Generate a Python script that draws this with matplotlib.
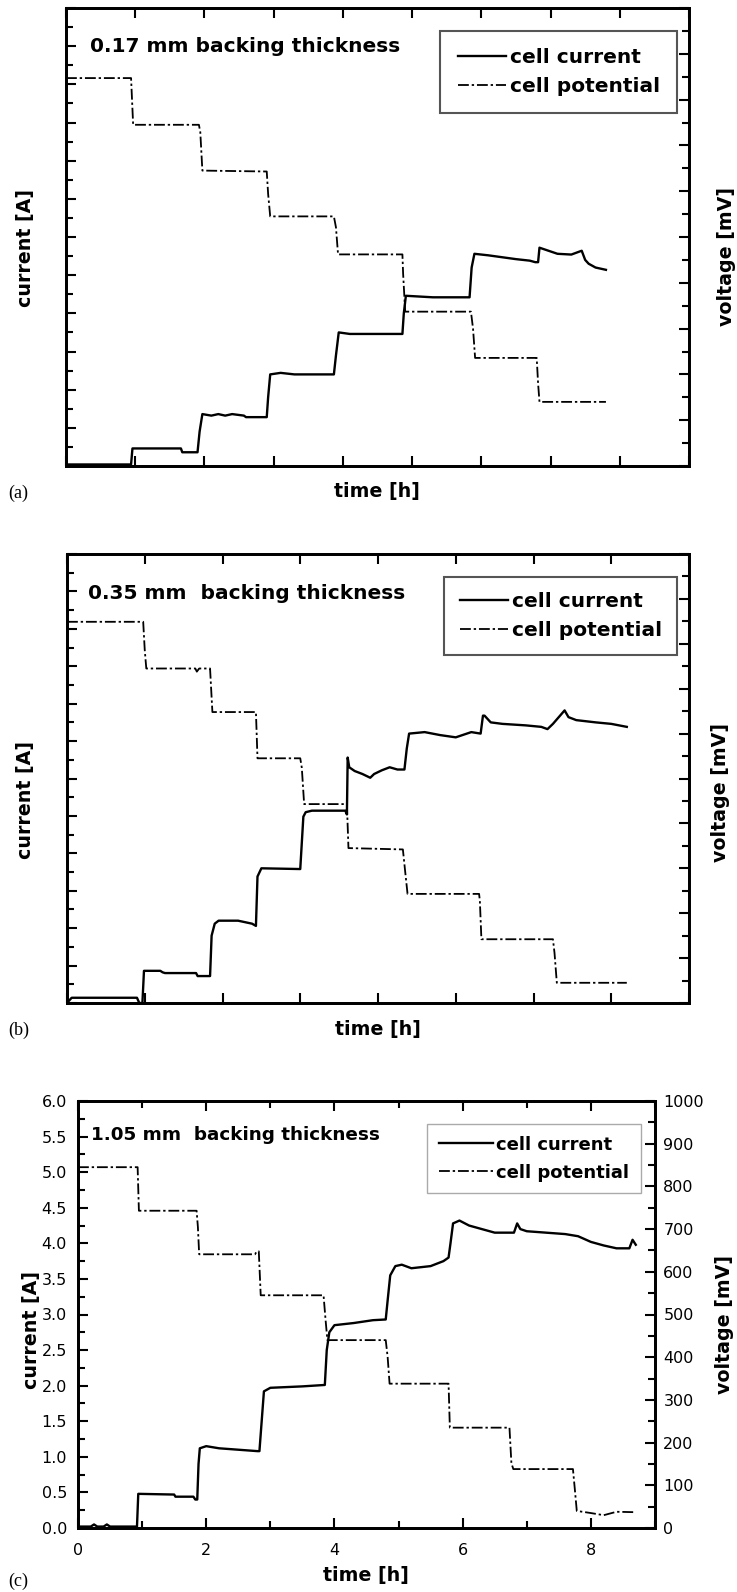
import matplotlib
matplotlib.use("Agg")
import matplotlib.pyplot as plt
from matplotlib.ticker import MultipleLocator, FormatStrFormatter, NullFormatter

# ---- data ----
# (a) 0.17 mm
ta_cur = [0.0, 0.94, 0.96, 1.30, 1.66, 1.68, 1.90, 1.93, 1.97, 2.10, 2.20, 2.30, 2.40, 2.57, 2.60,
          2.90, 2.92, 2.95, 3.10, 3.30, 3.52, 3.87, 3.90, 3.94, 4.10, 4.86, 4.88, 4.91, 5.30,
          5.83, 5.86, 5.90, 6.10, 6.50, 6.70, 6.78, 6.82, 6.84, 7.10, 7.30, 7.45, 7.50, 7.55,
          7.65, 7.80]
a_cur = [0.02, 0.02, 0.23, 0.23, 0.23, 0.18, 0.18, 0.45, 0.68, 0.66, 0.68, 0.66, 0.68, 0.66, 0.64,
         0.64, 0.90, 1.20, 1.22, 1.20, 1.20, 1.20, 1.45, 1.75, 1.73, 1.73, 2.00, 2.23, 2.21,
         2.21, 2.60, 2.78, 2.76, 2.71, 2.69, 2.67, 2.67, 2.86, 2.78, 2.77, 2.82, 2.70, 2.65,
         2.60, 2.57]
ta_pot = [0.0, 0.94, 0.97, 1.92, 1.94, 1.97, 2.90, 2.92, 2.95, 3.87, 3.90, 3.93, 4.86, 4.87,
          4.90, 5.85, 5.88, 5.91, 6.80, 6.82, 6.84, 7.80]
a_pot = [847, 847, 745, 745, 729, 645, 643, 594, 545, 545, 521, 462, 462, 420,
         337, 337, 300, 236, 236, 180, 140, 140]

# (b) 0.35 mm
tb_cur = [0.0, 0.06, 0.90, 0.93, 0.97, 0.99, 1.20, 1.23, 1.26, 1.66, 1.68, 1.84, 1.86, 1.90,
          1.95, 2.20, 2.38, 2.43, 2.45, 2.50, 3.00, 3.04, 3.07, 3.15, 3.58, 3.60, 3.61, 3.63,
          3.70, 3.80, 3.90, 3.95, 4.05, 4.15, 4.25, 4.34, 4.37, 4.40, 4.60, 4.80, 5.00, 5.20,
          5.32, 5.35, 5.37, 5.45, 5.60, 5.90, 6.10, 6.18, 6.25, 6.40, 6.45, 6.55, 6.80, 7.00,
          7.20]
b_cur = [0.0, 0.07, 0.07, 0.0, 0.0, 0.43, 0.43, 0.41, 0.40, 0.40, 0.36, 0.36, 0.90, 1.06,
         1.10, 1.10, 1.06, 1.03, 1.69, 1.80, 1.79, 2.49, 2.55, 2.57, 2.57, 2.52, 3.28, 3.15,
         3.10, 3.06, 3.01, 3.06, 3.11, 3.15, 3.12, 3.12, 3.40, 3.60, 3.62, 3.58, 3.55, 3.62,
         3.60, 3.84, 3.84, 3.75, 3.73, 3.71, 3.69, 3.66, 3.73, 3.91, 3.82, 3.78, 3.75, 3.73,
         3.69]
tb_pot = [0.0, 0.98, 1.00, 1.02, 1.65, 1.67, 1.70, 1.84, 1.87, 2.43, 2.45, 3.00, 3.02, 3.05,
          3.60, 3.62, 4.32, 4.35, 4.38, 5.30, 5.31, 5.33, 6.25, 6.27, 6.30, 7.20]
b_pot = [849, 849, 786, 745, 745, 738, 745, 745, 648, 648, 545, 545, 524, 443,
         443, 345, 342, 292, 243, 243, 228, 142, 142, 112, 45, 45]

# (c) 1.05 mm
tc_cur = [0.0, 0.20, 0.25, 0.30, 0.40, 0.45, 0.50, 0.92, 0.94, 1.50, 1.52, 1.80, 1.83, 1.86,
          1.88, 1.90, 2.00, 2.20, 2.50, 2.80, 2.83, 2.90, 3.00, 3.50, 3.85, 3.88, 3.92, 4.00,
          4.30, 4.60, 4.80, 4.83, 4.87, 4.95, 5.05, 5.20, 5.50, 5.70, 5.78, 5.81, 5.85, 5.95,
          6.10, 6.30, 6.50, 6.80, 6.85, 6.90, 7.00, 7.30, 7.60, 7.80, 8.00, 8.20, 8.40, 8.60,
          8.65, 8.70]
c_cur = [0.02, 0.02, 0.05, 0.02, 0.02, 0.05, 0.02, 0.02, 0.48, 0.47, 0.44, 0.44, 0.40, 0.40,
         0.90, 1.12, 1.15, 1.12, 1.10, 1.08, 1.08, 1.92, 1.97, 1.99, 2.01, 2.50, 2.75, 2.85,
         2.88, 2.92, 2.93, 3.20, 3.55, 3.68, 3.70, 3.65, 3.68, 3.75, 3.80, 4.00, 4.28, 4.32,
         4.25, 4.20, 4.15, 4.15, 4.28, 4.20, 4.17, 4.15, 4.13, 4.10, 4.02, 3.97, 3.93, 3.93,
         4.05, 3.98]
tc_pot = [0.0, 0.93, 0.95, 1.85, 1.87, 1.89, 2.76, 2.79, 2.82, 2.85, 3.83, 3.86, 3.89, 4.80,
          4.83, 4.86, 5.78, 5.80, 6.73, 6.76, 6.79, 7.72, 7.75, 7.78, 8.00, 8.20, 8.40, 8.70]
c_pot = [845, 845, 743, 743, 705, 641, 641, 648, 648, 545, 545, 490, 440, 440,
         400, 338, 338, 235, 235, 152, 138, 138, 90, 40, 35, 30, 38, 37]

panels = [
    ("0.17 mm backing thickness", ta_cur, a_cur, ta_pot, a_pot, 9, "(a)"),
    ("0.35 mm  backing thickness", tb_cur, b_cur, tb_pot, b_pot, 8, "(b)"),
    ("1.05 mm  backing thickness", tc_cur, c_cur, tc_pot, c_pot, 9, "(c)"),
]

W, H = 737, 1592
fig = plt.figure(figsize=(W / 100, H / 100), dpi=100)

def rect(l, t, r, b):
    return [l / W, 1 - b / H, (r - l) / W, (b - t) / H]

boxes = [rect(66, 8, 689, 466), rect(67, 554, 689, 1003), rect(78, 1101, 655, 1528)]
ylab_pos = [(26, 248, 726, 257, 377, 492, 493),
            (26, 800, 721, 792, 378, 1030, 1030),
            (31, 1330, 724, 1325, 366, 1576, 1581)]
leg_pos = [(0.981, 0.95), (0.981, 0.949), (0.976, 0.946)]
title_pos = [(0.0385, 0.915), (0.034, 0.911), (0.023, 0.92)]
# font size, borderpad, labelspacing, handlelength
leg_style = [(14.5, 0.85, 0.5, 2.4), (14.5, 0.75, 0.5, 2.4), (13, 0.65, 0.55, 3.0)]

bold = dict(family="DejaVu Sans", weight="bold")
dashdot = (0, (6, 1.6, 1.3, 1.6))

for i, (title, tc, cur, tp, pot, xmax, tag) in enumerate(panels):
    ax = fig.add_axes(boxes[i])
    ax2 = ax.twinx()
    l1, = ax.plot(tc, cur, color="black", lw=1.7, label="cell current")
    l2, = ax2.plot(tp, pot, color="black", lw=1.3, linestyle=dashdot, label="cell potential")
    ax.set_xlim(0, xmax)
    ax.set_ylim(0, 6)
    ax2.set_ylim(0, 1000)
    ax.yaxis.set_major_locator(MultipleLocator(0.5))
    ax.yaxis.set_minor_locator(MultipleLocator(0.25))
    ax2.yaxis.set_major_locator(MultipleLocator(100))
    ax2.yaxis.set_minor_locator(MultipleLocator(50))
    if i == 2:
        ax.xaxis.set_major_locator(MultipleLocator(2))
        ax.xaxis.set_minor_locator(MultipleLocator(1))
        ax.yaxis.set_major_formatter(FormatStrFormatter("%.1f"))
    else:
        ax.xaxis.set_major_locator(MultipleLocator(1))
        ax.xaxis.set_major_formatter(NullFormatter())
        ax.yaxis.set_major_formatter(NullFormatter())
        ax2.yaxis.set_major_formatter(NullFormatter())
    ax.tick_params(which="both", direction="in", top=True, right=False, width=1.5,
                   labelsize=11.5, pad=8)
    ax.tick_params(axis="x", pad=11)
    ax.tick_params(which="major", length=7)
    ax.tick_params(which="minor", length=5)
    ax2.tick_params(which="both", direction="in", width=1.5, labelsize=11.5, pad=6)
    ax2.tick_params(which="major", length=7)
    ax2.tick_params(which="minor", length=5)
    for a in (ax, ax2):
        for s in a.spines.values():
            s.set_linewidth(2)

    fs = 14.5 if i < 2 else 13.2
    ax.text(title_pos[i][0], title_pos[i][1], title, transform=ax.transAxes,
            fontsize=fs, va="center", ha="left", **bold)
    lfs, bp, ls, hl = leg_style[i]
    leg = ax.legend(handles=[l1, l2], loc="upper right", bbox_to_anchor=leg_pos[i],
                    prop=dict(size=lfs, **bold), fancybox=False, borderpad=bp,
                    labelspacing=ls, handlelength=hl, handletextpad=0.2,
                    borderaxespad=0, framealpha=1)
    leg.get_frame().set_edgecolor("#555555" if i < 2 else "#aaaaaa")
    leg.get_frame().set_linewidth(1.5 if i < 2 else 1.0)

    cx, cy, vx, vy, tx, ty, gy = ylab_pos[i]
    fig.text(cx / W, 1 - cy / H, "current [A]", rotation=90, ha="center", va="center",
             fontsize=13.7, **bold)
    fig.text(vx / W, 1 - vy / H, "voltage [mV]", rotation=90, ha="center", va="center",
             fontsize=13.7, **bold)
    fig.text(tx / W, 1 - ty / H, "time [h]", ha="center", va="center", fontsize=13.7, **bold)
    fig.text(8 / W, 1 - gy / H, tag, ha="left", va="center", fontsize=13,
             family="Liberation Serif")

fig.savefig("out.png", dpi=100)
